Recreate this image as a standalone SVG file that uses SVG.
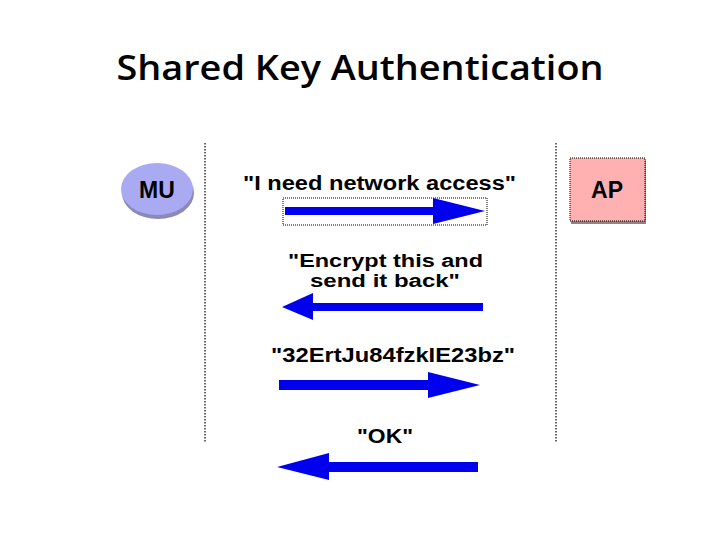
<svg xmlns="http://www.w3.org/2000/svg" width="720" height="540" viewBox="0 0 720 540">
<defs>
<style>
.title{font-family:"Open Sans","Liberation Sans",sans-serif;font-weight:600;font-size:35px;fill:#000}
.lbl{font-family:"Liberation Sans",Arial,sans-serif;font-weight:bold;font-size:20px;fill:#000}
.lbl2{font-size:18px}
.node{font-family:"Liberation Sans",Arial,sans-serif;font-weight:bold;font-size:23px;fill:#000}
.life{stroke:#000;stroke-width:1.2;stroke-dasharray:1.5 1.5;fill:none}
.arrow{fill:#0000ee}
.sel{fill:none;stroke:#000;stroke-width:1;stroke-dasharray:1 1}
</style>
</defs>
<rect width="720" height="540" fill="#fff"/>
<text class="title" x="360" y="80" text-anchor="middle" textLength="487" lengthAdjust="spacingAndGlyphs">Shared Key Authentication</text>
<g id="lifelines">
<line class="life" x1="205" y1="143" x2="205" y2="443"/>
<line class="life" x1="556" y1="143" x2="556" y2="443"/>
</g>
<g id="MU">
<ellipse cx="158" cy="193" rx="36" ry="26" fill="#8a8ab8"/>
<ellipse cx="157" cy="189" rx="36" ry="26" fill="#aaaaf2"/>
<text class="node" x="157" y="198" text-anchor="middle">MU</text>
</g>
<g id="AP">
<rect x="571" y="160" width="75" height="64" fill="#998080"/>
<rect x="570" y="158" width="75" height="63" fill="#ffb0b0"/>
<rect class="sel" x="570" y="158" width="75" height="63"/>
<text class="node" x="607" y="198" text-anchor="middle">AP</text>
</g>
<g id="connectors">
<rect class="sel" x="283" y="198" width="204" height="27"/>
<polygon class="arrow" points="285,207 433,207 433,198 485,211 433,224 433,215 285,215"/>
<polygon class="arrow" points="483,303 313,303 313,293 282,307 313,320 313,311 483,311"/>
<polygon class="arrow" points="279,380 428,380 428,372 480,385 428,398 428,390 279,390"/>
<polygon class="arrow" points="478,462 329,462 329,453 277,467 329,480 329,472 478,472"/>
</g>
<g id="labels">
<text class="lbl" x="243" y="190" textLength="273" lengthAdjust="spacingAndGlyphs">"I need network access"</text>
<text class="lbl lbl2" x="288" y="267" textLength="195" lengthAdjust="spacingAndGlyphs">"Encrypt this and</text>
<text class="lbl lbl2" x="310" y="287" textLength="150" lengthAdjust="spacingAndGlyphs">send it back"</text>
<text class="lbl" x="271" y="362" textLength="244" lengthAdjust="spacingAndGlyphs">"32ErtJu84fzkIE23bz"</text>
<text class="lbl" x="357" y="443" textLength="56" lengthAdjust="spacingAndGlyphs">"OK"</text>
</g>
</svg>
